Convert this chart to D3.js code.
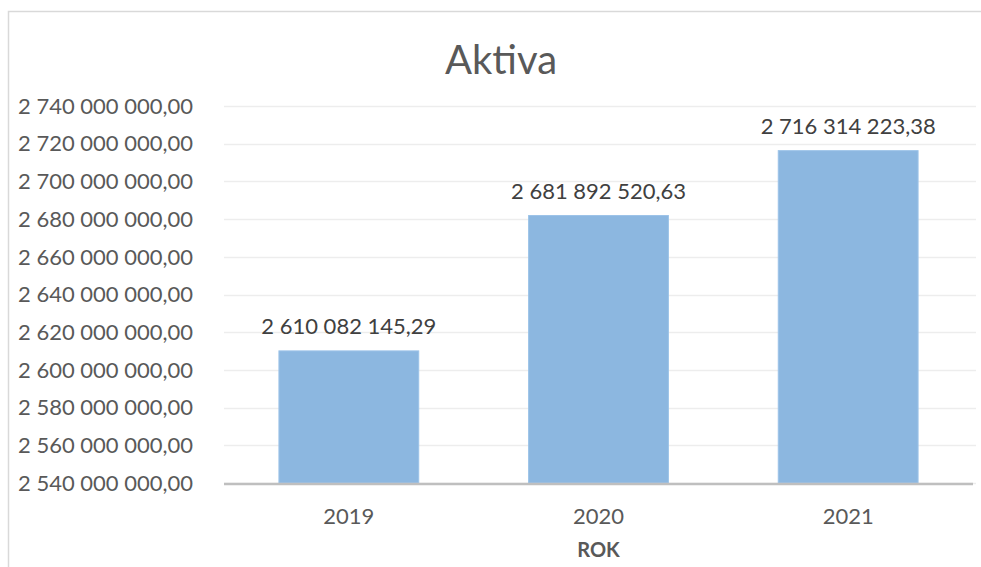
<!DOCTYPE html>
<html lang="cs">
<head>
  <meta charset="utf-8">
  <title>Aktiva</title>
  <script src="https://d3js.org/d3.v7.min.js"></script>
  <style>
    body { margin: 0; background: #fff; }
    svg { display: block; font-family: Lato, "Open Sans", sans-serif; }
  </style>
</head>
<body>
<div id="vis"></div>
<script>
  var roky = ["2019", "2020", "2021"];
  var aktiva = [2610082145.29, 2681892520.63, 2716314223.38];
  var yTicks = [2540000000, 2560000000, 2580000000, 2600000000, 2620000000,
                2640000000, 2660000000, 2680000000, 2700000000, 2720000000, 2740000000];

  var sirka = 981, vyska = 567;
  var margin = { top: 106, right: 5, bottom: 84, left: 224 };
  var sirkaVis = sirka - margin.left - margin.right,
      vyskaVis = vyska - margin.top - margin.bottom;

  var loc = d3.formatLocale({ decimal: ",", thousands: " ", grouping: [3], currency: ["", ""] });
  var fmt = loc.format(",.2f");

  var svg = d3.select("#vis").append("svg")
    .attr("width", sirka)
    .attr("height", vyska);

  // ramecek grafu
  svg.append("path")
    .attr("d", "M8.5," + vyska + "V11.5H" + sirka)
    .attr("fill", "none")
    .attr("stroke", "#d9d9d9")
    .attr("stroke-width", 1.5);

  svg.append("text")
    .attr("x", 501)
    .attr("y", 74)
    .attr("text-anchor", "middle")
    .attr("fill", "#595959")
    .style("font-size", "40px")
    .text("Aktiva");

  var g = svg.append("g")
    .attr("transform", "translate(" + margin.left + "," + margin.top + ")");

  var x = d3.scaleBand()
    .domain(roky)
    .range([0, sirkaVis - 3])
    .paddingInner(0.44)
    .paddingOuter(0.22);

  var y = d3.scaleLinear()
    .domain([2540000000, 2740000000])
    .range([vyskaVis, 0]);

  // mrizka
  g.selectAll(".grid")
    .data(yTicks)
    .enter()
    .append("line")
    .attr("x1", 0)
    .attr("x2", sirkaVis)
    .attr("y1", d => Math.round(y(d)) + 0.5)
    .attr("y2", d => Math.round(y(d)) + 0.5)
    .attr("stroke", "#ededed")
    .attr("stroke-width", 1.5);

  // popisky osy y
  g.selectAll(".ytick")
    .data(yTicks)
    .enter()
    .append("text")
    .attr("x", -31)
    .attr("y", d => y(d))
    .attr("dy", "0.35em")
    .attr("text-anchor", "end")
    .attr("fill", "#595959")
    .style("font-size", "22px")
    .text(d => fmt(d));

  g.selectAll(".bar")
    .data(aktiva)
    .enter()
    .append("rect")
    .attr("x", (d, i) => x(roky[i]))
    .attr("width", x.bandwidth())
    .attr("y", d => y(d))
    .attr("height", d => vyskaVis - y(d))
    .attr("fill", "#8cb7e0")
    .attr("stroke", "#9cc3e8")
    .attr("stroke-width", 1);

  g.selectAll(".lbl")
    .data(aktiva)
    .enter()
    .append("text")
    .attr("x", (d, i) => x(roky[i]) + x.bandwidth() / 2)
    .attr("y", d => y(d) - 17)
    .attr("text-anchor", "middle")
    .attr("fill", "#404040")
    .style("font-size", "22px")
    .text(d => fmt(d));

  // osa x
  g.append("line")
    .attr("x1", 0)
    .attr("x2", sirkaVis - 3)
    .attr("y1", vyskaVis + 1)
    .attr("y2", vyskaVis + 1)
    .attr("stroke", "#bfbfbf")
    .attr("stroke-width", 2.5);

  g.selectAll(".xtick")
    .data(roky)
    .enter()
    .append("text")
    .attr("x", d => x(d) + x.bandwidth() / 2)
    .attr("y", vyskaVis + 41)
    .attr("text-anchor", "middle")
    .attr("fill", "#595959")
    .style("font-size", "22px")
    .text(d => d);

  g.append("text")
    .attr("x", x("2020") + x.bandwidth() / 2)
    .attr("y", vyskaVis + 74)
    .attr("text-anchor", "middle")
    .attr("fill", "#595959")
    .style("font-size", "20px")
    .style("font-weight", "bold")
    .text("ROK");
</script>
</body>
</html>
